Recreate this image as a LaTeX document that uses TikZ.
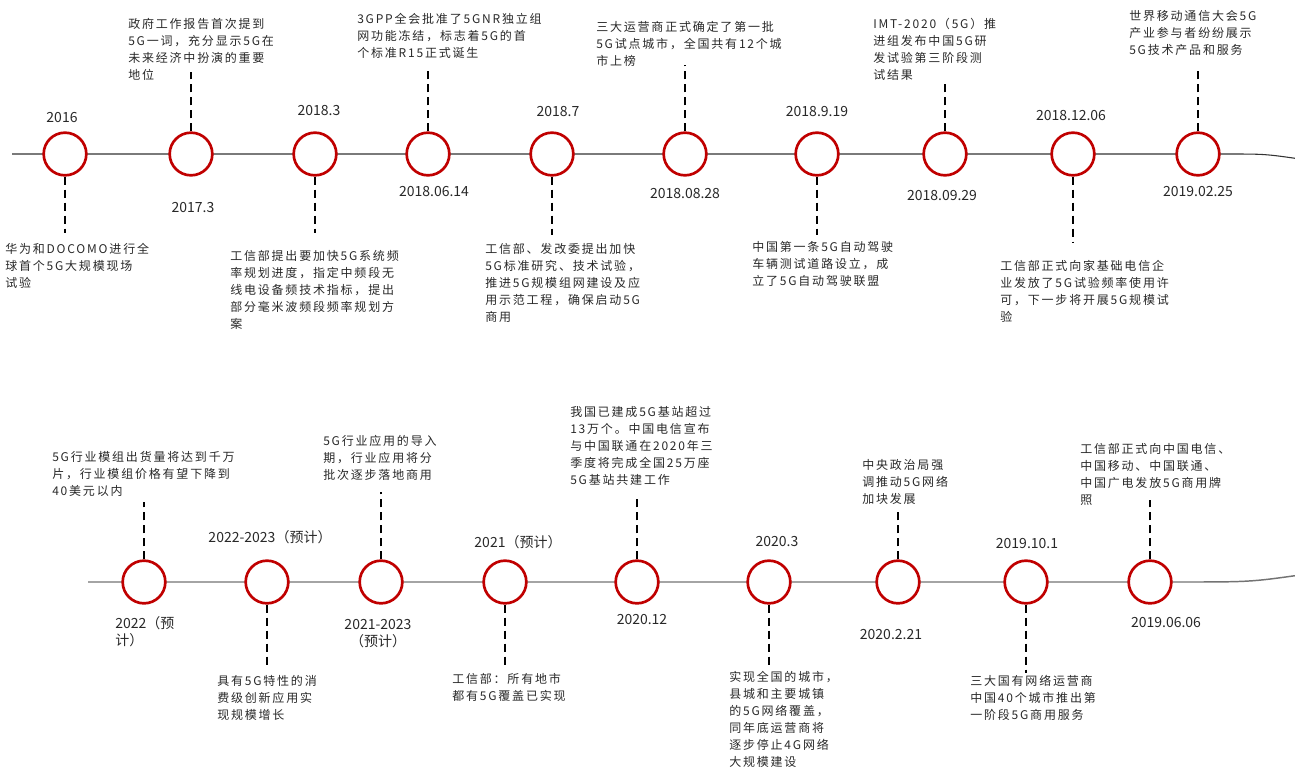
\documentclass[tikz,border=0pt]{standalone}
\usepackage{fontspec}
\setmainfont{Noto Sans CJK SC}
\newfontfamily\notefont[LetterSpace=15]{Noto Sans CJK SC}
\definecolor{ringred}{RGB}{192,0,0}
\definecolor{inkgray}{RGB}{40,40,40}
\tikzset{
  ring/.style={circle,draw=ringred,line width=2pt,fill=white,minimum size=32pt,inner sep=0pt},
  stem/.style={black,line width=1.9pt,dash pattern=on 6pt off 3.75pt},
  date/.style={text=inkgray,font=\fontsize{10.5pt}{12.75pt}\selectfont,inner sep=0pt,align=center},
  note/.style={text=inkgray,font=\notefont\fontsize{9pt}{12.75pt}\selectfont,align=left,inner sep=0pt,anchor=north west},
  axis/.style={line width=0.8pt,black!80}
}
\begin{document}
\begin{tikzpicture}[x=0.75pt,y=-0.75pt]
\useasboundingbox (0,0) rectangle (1295,767);

\coordinate (top_start) at (12,154);
\coordinate (top_end) at (1225,154);
\coordinate (top_tail) at (1300,159);
\draw[axis] (top_start)--(top_end) .. controls (1265,154) .. (top_tail);
\coordinate (bot_start) at (88,582);
\coordinate (bot_end) at (1175,582);
\coordinate (bot_tail) at (1300,575);
\draw[axis,black!55,line width=1.1pt] (bot_start)--(bot_end) .. controls (1250,582) .. (bot_tail);

\node[ring] (A1) at (65,154) {};
\node[ring] (A2) at ([shift={+(126,0)}]A1) {};
\node[ring] (A3) at ([shift={+(124,0)}]A2) {};
\node[ring] (A4) at ([shift={+(113,0)}]A3) {};
\node[ring] (A5) at ([shift={+(124,0)}]A4) {};
\node[ring] (A6) at ([shift={+(133,0)}]A5) {};
\node[ring] (A7) at ([shift={+(132,0)}]A6) {};
\node[ring] (A8) at ([shift={+(128,0)}]A7) {};
\node[ring] (A9) at ([shift={+(128,0)}]A8) {};
\node[ring] (A10) at ([shift={+(125,0)}]A9) {};

\node[date] (A1_date) at ([shift={+(-3,-36)}]A1) {2016};
\node[date] (A2_date) at ([shift={+(2,54)}]A2) {2017.3};
\node[date] (A3_date) at ([shift={+(4,-43)}]A3) {2018.3};
\node[date] (A4_date) at ([shift={+(6,38)}]A4) {2018.06.14};
\node[date] (A5_date) at ([shift={+(6,-42)}]A5) {2018.7};
\node[date] (A6_date) at ([shift={+(0,40)}]A6) {2018.08.28};
\node[date] (A7_date) at ([shift={+(0,-42)}]A7) {2018.9.19};
\node[date] (A8_date) at ([shift={+(-3,42)}]A8) {2018.09.29};
\node[date] (A9_date) at ([shift={+(-2,-38)}]A9) {2018.12.06};
\node[date] (A10_date) at ([shift={+(0,38)}]A10) {2019.02.25};

\coordinate (A1_end) at ([shift={+(0,79)}]A1);
\coordinate (A2_end) at ([shift={+(0,-82)}]A2);
\coordinate (A3_end) at ([shift={+(0,79)}]A3);
\coordinate (A4_end) at ([shift={+(0,-86)}]A4);
\coordinate (A5_end) at ([shift={+(0,81)}]A5);
\coordinate (A6_end) at ([shift={+(0,-89)}]A6);
\coordinate (A7_end) at ([shift={+(0,81)}]A7);
\coordinate (A8_end) at ([shift={+(0,-74)}]A8);
\coordinate (A9_end) at ([shift={+(0,89)}]A9);
\coordinate (A10_end) at ([shift={+(0,-84)}]A10);
\draw[stem] (A1.south)--(A1_end);
\draw[stem] (A2.north)--(A2_end);
\draw[stem] (A3.south)--(A3_end);
\draw[stem] (A4.north)--(A4_end);
\draw[stem] (A5.south)--(A5_end);
\draw[stem] (A6.north)--(A6_end);
\draw[stem] (A7.south)--(A7_end);
\draw[stem] (A8.north)--(A8_end);
\draw[stem] (A9.south)--(A9_end);
\draw[stem] (A10.north)--(A10_end);

\node[note] (A1_note) at ([shift={+(-60,89)}]A1) {华为和DOCOMO进行全\\球首个5G大规模现场\\试验};
\node[note] (A2_note) at ([shift={+(-63,-136)}]A2) {政府工作报告首次提到\\5G一词，充分显示5G在\\未来经济中扮演的重要\\地位};
\node[note] (A3_note) at ([shift={+(-85,96)}]A3) {工信部提出要加快5G系统频\\率规划进度，指定中频段无\\线电设备频技术指标，提出\\部分毫米波频段频率规划方\\案};
\node[note] (A4_note) at ([shift={+(-71,-141)}]A4) {3GPP全会批准了5GNR独立组\\网功能冻结，标志着5G的首\\个标准R15正式诞生};
\node[note] (A5_note) at ([shift={+(-67,89)}]A5) {工信部、发改委提出加快\\5G标准研究、技术试验，\\推进5G规模组网建设及应\\用示范工程，确保启动5G\\商用};
\node[note] (A6_note) at ([shift={+(-89,-133)}]A6) {三大运营商正式确定了第一批\\5G试点城市，全国共有12个城\\市上榜};
\node[note] (A7_note) at ([shift={+(-65,87)}]A7) {中国第一条5G自动驾驶\\车辆测试道路设立，成\\立了5G自动驾驶联盟};
\node[note] (A8_note) at ([shift={+(-72,-136)}]A8) {IMT-2020（5G）推\\进组发布中国5G研\\发试验第三阶段测\\试结果};
\node[note] (A9_note) at ([shift={+(-73,106)}]A9) {工信部正式向家基础电信企\\业发放了5G试验频率使用许\\可，下一步将开展5G规模试\\验};
\node[note] (A10_note) at ([shift={+(-69,-144)}]A10) {世界移动通信大会5G\\产业参与者纷纷展示\\5G技术产品和服务};

\node[ring] (B1) at (144,582) {};
\node[ring] (B2) at ([shift={+(123,0)}]B1) {};
\node[ring] (B3) at ([shift={+(114,0)}]B2) {};
\node[ring] (B4) at ([shift={+(124,0)}]B3) {};
\node[ring] (B5) at ([shift={+(132,0)}]B4) {};
\node[ring] (B6) at ([shift={+(132,0)}]B5) {};
\node[ring] (B7) at ([shift={+(129,0)}]B6) {};
\node[ring] (B8) at ([shift={+(128,0)}]B7) {};
\node[ring] (B9) at ([shift={+(124,0)}]B8) {};

\node[date,align=left,anchor=north west] (B1_date) at ([shift={+(-29,34)}]B1) {2022（预\\计）};
\node[date] (B2_date) at ([shift={+(3,-45)}]B2) {2022-2023（预计）};
\node[date] (B3_date) at ([shift={+(-3,52)}]B3) {2021-2023\\（预计）};
\node[date] (B4_date) at ([shift={+(13,-40)}]B4) {2021（预计）};
\node[date] (B5_date) at ([shift={+(5,38)}]B5) {2020.12};
\node[date] (B6_date) at ([shift={+(8,-40)}]B6) {2020.3};
\node[date] (B7_date) at ([shift={+(-7,53)}]B7) {2020.2.21};
\node[date] (B8_date) at ([shift={+(1,-38)}]B8) {2019.10.1};
\node[date] (B9_date) at ([shift={+(16,41)}]B9) {2019.06.06};

\coordinate (B1_end) at ([shift={+(0,-80)}]B1);
\coordinate (B2_end) at ([shift={+(0,83)}]B2);
\coordinate (B3_end) at ([shift={+(0,-90)}]B3);
\coordinate (B4_end) at ([shift={+(0,83)}]B4);
\coordinate (B5_end) at ([shift={+(0,-86)}]B5);
\coordinate (B6_end) at ([shift={+(0,83)}]B6);
\coordinate (B7_end) at ([shift={+(0,-72)}]B7);
\coordinate (B8_end) at ([shift={+(0,91)}]B8);
\coordinate (B9_end) at ([shift={+(0,-82)}]B9);
\draw[stem] (B1.north)--(B1_end);
\draw[stem] (B2.south)--(B2_end);
\draw[stem] (B3.north)--(B3_end);
\draw[stem] (B4.south)--(B4_end);
\draw[stem] (B5.north)--(B5_end);
\draw[stem] (B6.south)--(B6_end);
\draw[stem] (B7.north)--(B7_end);
\draw[stem] (B8.south)--(B8_end);
\draw[stem] (B9.north)--(B9_end);

\node[note] (B1_note) at ([shift={+(-92,-131)}]B1) {5G行业模组出货量将达到千万\\片，行业模组价格有望下降到\\40美元以内};
\node[note] (B2_note) at ([shift={+(-50,93)}]B2) {具有5G特性的消\\费级创新应用实\\现规模增长};
\node[note] (B3_note) at ([shift={+(-58,-147)}]B3) {5G行业应用的导入\\期，行业应用将分\\批次逐步落地商用};
\node[note] (B4_note) at ([shift={+(-53,91)}]B4) {工信部：所有地市\\都有5G覆盖已实现};
\node[note] (B5_note) at ([shift={+(-67,-176)}]B5) {我国已建成5G基站超过\\13万个。中国电信宣布\\与中国联通在2020年三\\季度将完成全国25万座\\5G基站共建工作};
\node[note] (B6_note) at ([shift={+(-40,89)}]B6) {实现全国的城市，\\县城和主要城镇\\的5G网络覆盖，\\同年底运营商将\\逐步停止4G网络\\大规模建设};
\node[note] (B7_note) at ([shift={+(-36,-123)}]B7) {中央政治局强\\调推动5G网络\\加块发展};
\node[note] (B8_note) at ([shift={+(-56,93)}]B8) {三大国有网络运营商\\中国40个城市推出第\\一阶段5G商用服务};
\node[note] (B9_note) at ([shift={+(-70,-139)}]B9) {工信部正式向中国电信、\\中国移动、中国联通、\\中国广电发放5G商用牌\\照};
\end{tikzpicture}
\end{document}
